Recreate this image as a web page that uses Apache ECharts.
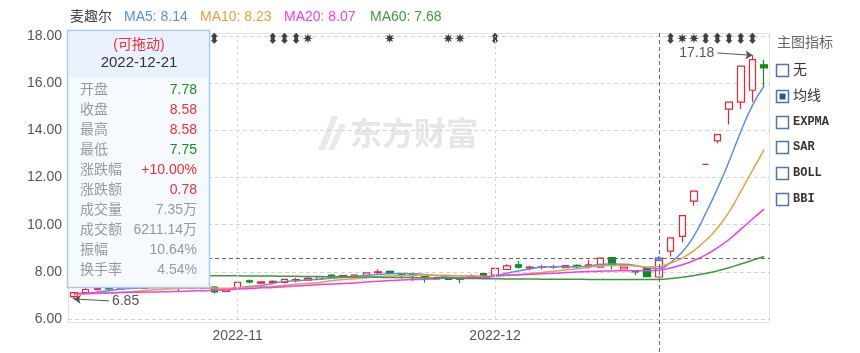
<!DOCTYPE html>
<html><head><meta charset="utf-8">
<script src="https://cdn.jsdelivr.net/npm/echarts@6/dist/echarts.min.js"></script>
<style>html,body{margin:0;padding:0;background:#fff}#c{width:860px;height:353px}</style>
</head><body><div id="c"></div>
<script>
// ---------- data ----------
const dates = ['2022-10-12','2022-10-13','2022-10-14','2022-10-17','2022-10-18','2022-10-19','2022-10-20','2022-10-21','2022-10-24','2022-10-25','2022-10-26','2022-10-27','2022-10-28','2022-10-31',
'2022-11-01','2022-11-02','2022-11-03','2022-11-04','2022-11-07','2022-11-08','2022-11-09','2022-11-10','2022-11-11','2022-11-14','2022-11-15','2022-11-16','2022-11-17','2022-11-18','2022-11-21','2022-11-22','2022-11-23','2022-11-24','2022-11-25','2022-11-28','2022-11-29','2022-11-30',
'2022-12-01','2022-12-02','2022-12-05','2022-12-06','2022-12-07','2022-12-08','2022-12-09','2022-12-12','2022-12-13','2022-12-14','2022-12-15','2022-12-16','2022-12-19','2022-12-20','2022-12-21',
'2022-12-22','2022-12-23','2022-12-26','2022-12-27','2022-12-28','2022-12-29','2022-12-30','2023-01-03','2023-01-04'];
const openP = [6.95,7.12,7.25,7.30,7.28,7.35,7.30,7.38,7.34,7.32, 7.30,7.30,7.35,7.17,7.30,7.62,7.52,7.55,7.55,7.66, 7.65,7.68,7.86,7.78,7.80,7.84,7.97,8.02,7.90,7.88, 7.80,7.70,7.72,7.70,7.72,7.92,7.86,8.10,8.30,8.16, 8.19,8.20,8.18,8.28,8.24,8.20,8.60,8.12,8.04,8.14, 7.78,8.88,9.50,11.00,12.56,13.55,14.90,15.20,15.70,16.78];
const closeP = [7.12,7.25,7.30,7.28,7.35,7.30,7.38,7.34,7.32,7.30, 7.31,7.36,7.15,7.25,7.55,7.57,7.57,7.60,7.68,7.67, 7.72,7.80,7.79,7.84,7.86,7.96,8.00,7.94,7.88,7.84, 7.78,7.74,7.68,7.69,7.82,7.80,8.15,8.25,8.20,8.20, 8.21,8.22,8.26,8.22,8.30,8.58,8.28,8.20,8.00,7.80, 8.58,9.44,10.38,11.42,12.56,13.82,15.20,16.72,17.00,16.65];
const lowP = [6.85,7.08,7.20,7.22,7.25,7.26,7.28,7.30,7.28,7.15, 7.27,7.26,7.08,7.15,7.28,7.52,7.48,7.50,7.52,7.55, 7.60,7.66,7.76,7.75,7.78,7.82,7.90,7.90,7.72,7.62, 7.55,7.66,7.66,7.52,7.70,7.76,7.84,8.08,8.13,8.06, 8.10,8.12,8.15,8.15,8.14,8.18,8.10,8.10,7.86,7.78, 7.75,8.65,9.25,10.80,12.56,13.45,14.25,14.90,15.20,15.87];
const highP = [7.15,7.30,7.38,7.36,7.40,7.42,7.45,7.44,7.40,7.36, 7.33,7.40,7.40,7.27,7.57,7.68,7.60,7.64,7.70,7.75, 7.78,7.82,7.90,7.88,7.90,7.98,8.10,8.06,7.94,7.90, 7.82,7.80,7.74,7.74,7.90,7.94,8.16,8.32,8.46,8.26, 8.30,8.30,8.28,8.32,8.50,8.60,8.62,8.22,8.08,8.15, 8.58,9.44,10.38,11.42,12.56,13.82,15.20,16.72,17.18,16.98];
const ma5 = [7.03,7.08,7.15,7.20,7.26,7.30,7.32,7.33,7.34,7.33, 7.33,7.32,7.29,7.27,7.32,7.38,7.42,7.51,7.59,7.62, 7.65,7.69,7.73,7.76,7.80,7.85,7.89,7.92,7.93,7.92, 7.89,7.84,7.78,7.75,7.74,7.75,7.83,7.94,8.04,8.12, 8.20,8.22,8.22,8.22,8.24,8.32,8.33,8.32,8.27,8.17, 8.14,8.40,8.84,9.52,10.48,11.52,12.68,13.94,15.06,15.88];
const ma10 = [7.04,7.06,7.08,7.10,7.13,7.16,7.20,7.24,7.27,7.29, 7.31,7.32,7.31,7.30,7.32,7.35,7.37,7.39,7.43,7.47, 7.51,7.55,7.62,7.68,7.71,7.75,7.79,7.82,7.84,7.86, 7.87,7.86,7.85,7.83,7.83,7.81,7.83,7.86,7.89,7.93, 7.97,8.02,8.08,8.13,8.18,8.26,8.27,8.27,8.25,8.21, 8.23,8.37,8.58,8.90,9.33,9.85,10.54,11.40,12.30,13.18];
const ma20 = [7.08,7.09,7.10,7.11,7.12,7.13,7.14,7.15,7.16,7.17, 7.19,7.20,7.22,7.24,7.27,7.29,7.32,7.34,7.37,7.40, 7.43,7.46,7.48,7.51,7.53,7.57,7.60,7.63,7.65,7.67, 7.69,7.71,7.74,7.76,7.77,7.78,7.81,7.85,7.87,7.90, 7.92,7.94,7.97,7.99,8.01,8.03,8.04,8.05,8.05,8.05, 8.07,8.16,8.30,8.48,8.72,9.02,9.37,9.80,10.24,10.66];
const ma60 = [7.86,7.86,7.86,7.86,7.85,7.85,7.85,7.85,7.84,7.84, 7.84,7.84,7.83,7.83,7.83,7.82,7.82,7.82,7.81,7.81, 7.80,7.80,7.79,7.79,7.78,7.78,7.77,7.76,7.76,7.75, 7.74,7.74,7.73,7.72,7.72,7.71,7.71,7.70,7.70,7.70, 7.69,7.69,7.69,7.69,7.68,7.68,7.68,7.68,7.68,7.68, 7.68,7.72,7.77,7.84,7.93,8.04,8.17,8.33,8.49,8.65];

const monthLabelDates = ['2022-11-01','2022-12-01'];
const yMin = 6, yMax = 18, yStep = 2;

const upDownMarkDates = ['2022-10-28','2022-11-04','2022-11-07','2022-11-08','2022-12-01','2022-12-22','2022-12-27','2022-12-28','2022-12-29','2022-12-30','2023-01-03'];
const starMarkDates = ['2022-11-09','2022-11-18','2022-11-25','2022-11-28','2022-12-23','2022-12-26'];
const markerLevel = 17.9;

const maxPoint = { date: '2023-01-03', value: 17.18, labelDate: '2022-12-28', labelValue: 17.28, text: '17.18' };
const minPoint = { date: '2022-10-12', value: 6.85, labelDate: '2022-10-17', labelValue: 6.77, text: '6.85' };

const crossDate = '2022-12-21';
const crossValue = 8.58;

const stockName = '麦趣尔';
const legendNames = ['MA5: 8.14', 'MA10: 8.23', 'MA20: 8.07', 'MA60: 7.68'];

const tipTitle = '(可拖动)';
const tipDate = '2022-12-21';
const tipLabels = ['开盘','收盘','最高','最低','涨跌幅','涨跌额','成交量','成交额','振幅','换手率'];
const tipValues = ['7.78','8.58','8.58','7.75','+10.00%','0.78','7.35万','6211.14万','10.64%','4.54%'];
const tipKinds = ['down','up','up','down','up','up','flat','flat','flat','flat'];

const panelTitle = '主图指标';
const indicatorNames = ['无','均线','EXPMA','SAR','BOLL','BBI'];
const indicatorChecked = [false,true,false,false,false,false];

const watermarkText = '东方财富';

// ---------- style ----------
const FONT = "'Liberation Sans', Arial, 'Noto Sans CJK SC', sans-serif";
const RED = '#f5222d', GREEN = '#0f8a1f';
const C_MA5 = '#5b8def', C_MA10 = '#e6a23c', C_MA20 = '#f23cf0', C_MA60 = '#3c9a3c';
const maColors = [C_MA5, C_MA10, C_MA20, C_MA60];

const chart = echarts.init(document.getElementById('c'));

const arrowLine = (p) => [
  { coord: [p.date, p.value], symbol: 'arrow', symbolSize: 7,
    lineStyle: { color: '#555', width: 1, type: 'solid' } },
  { coord: [p.labelDate, p.labelValue], symbol: 'none',
    label: { show: true, position: 'end', formatter: p.text, color: '#555', fontSize: 14, distance: 3, fontFamily: FONT } }
];

chart.setOption({
  animation: false,
  textStyle: { fontFamily: FONT },
  grid: { left: 68, right: 90, top: 36, bottom: 34 },
  xAxis: {
    type: 'category', data: dates, boundaryGap: true,
    axisLine: { show: false }, axisTick: { show: false },
    axisLabel: { interval: (i, v) => monthLabelDates.includes(v), formatter: v => v.slice(0, 7),
      color: '#555', fontSize: 14, margin: 10 },
    splitLine: { show: false }
  },
  yAxis: {
    type: 'value', min: yMin, max: yMax, interval: yStep,
    axisLine: { show: false }, axisTick: { show: false },
    axisLabel: { formatter: v => v.toFixed(2), color: '#555', fontSize: 14, margin: 6 },
    splitLine: { lineStyle: { color: '#d3d3d3', type: [4, 3], width: 1 } }
  },
  series: [
    {
      type: 'candlestick', name: 'K',
      data: dates.map((d, i) => [openP[i], closeP[i], lowP[i], highP[i]]),
      barWidth: 7,
      itemStyle: { color: '#ffffff', color0: GREEN, borderColor: RED, borderColor0: GREEN, borderWidth: 1.2 },
      markLine: {
        silent: true, animation: false, symbol: 'none',
        label: { show: false },
        data: [
          ...monthLabelDates.map(d => ({ xAxis: d, lineStyle: { color: '#d8d8d8', type: [3, 3], width: 1 } })),
          { yAxis: crossValue, lineStyle: { color: '#666', type: [4, 3], width: 1 } },
          arrowLine(maxPoint),
          arrowLine(minPoint)
        ]
      }
    },
    { type: 'line', name: 'MA5', data: ma5, smooth: true, showSymbol: false, lineStyle: { color: C_MA5, width: 1.5 }, itemStyle: { color: C_MA5 } },
    { type: 'line', name: 'MA10', data: ma10, smooth: true, showSymbol: false, lineStyle: { color: C_MA10, width: 1.5 }, itemStyle: { color: C_MA10 } },
    { type: 'line', name: 'MA20', data: ma20, smooth: true, showSymbol: false, lineStyle: { color: C_MA20, width: 1.5 }, itemStyle: { color: C_MA20 } },
    { type: 'line', name: 'MA60', data: ma60, smooth: true, showSymbol: false, lineStyle: { color: C_MA60, width: 1.5 }, itemStyle: { color: C_MA60 } },
    { type: 'scatter', name: 'updown', data: upDownMarkDates.map(d => [d, markerLevel]),
      symbol: 'path://M5 0L10 6L7.8 6L7.8 12L10 12L5 18L0 12L2.2 12L2.2 6L0 6Z', symbolSize: [7, 11], symbolKeepAspect: false,
      itemStyle: { color: '#111' }, silent: true },
    { type: 'scatter', name: 'star', data: starMarkDates.map(d => [d, markerLevel]),
      symbol: 'path://M20 10L14.16 11.72L17.07 17.07L11.72 14.16L10 20L8.28 14.16L2.93 17.07L5.84 11.72L0 10L5.84 8.28L2.93 2.93L8.28 5.84L10 0L11.72 5.84L17.07 2.93L14.16 8.28Z',
      symbolSize: 10, itemStyle: { color: '#111' }, silent: true }
  ]
});

// ---------- overlay elements ----------
const cx = chart.convertToPixel({ xAxisIndex: 0 }, crossDate);
const cy = chart.convertToPixel({ yAxisIndex: 0 }, crossValue);
const f = (size, fam) => size + 'px ' + (fam || FONT);
const txt = (text, x, y, fill, font, align, z) => ({
  type: 'text', x, y, z: z || 100, silent: true,
  style: { text, fill, font, align: align || 'left', verticalAlign: 'middle', textAlign: align || 'left', textVerticalAlign: 'middle' }
});

const g = [];
// plot border
g.push({ type: 'rect', z: -1, silent: true, shape: { x: 68.5, y: 33.5, width: 701, height: 289 }, style: { fill: 'none', stroke: '#e2e2e2', lineWidth: 1 } });
// watermark
g.push({ type: 'polygon', z: -1, silent: true, shape: { points: [[318,150],[332,116],[338,116],[325,150]] }, style: { fill: '#e9e9e9' } });
g.push({ type: 'polygon', z: -1, silent: true, shape: { points: [[328,150],[340,124],[346,124],[334,150]] }, style: { fill: '#e9e9e9' } });
g.push({ type: 'text', x: 350, y: 133, z: -1, silent: true, style: { text: watermarkText, fill: '#e6e6e6', font: "bold 32px 'Noto Sans CJK SC'", align: 'left', verticalAlign: 'middle', textAlign: 'left', textVerticalAlign: 'middle' } });
// legend line
g.push(txt(stockName, 70, 17, '#444', f(14)));
const legendX = [124, 200, 284, 370];
legendNames.forEach((n, i) => g.push(txt(n, legendX[i], 17, maColors[i], f(14))));
// crosshair vertical
g.push({ type: 'line', z: 50, silent: true, shape: { x1: Math.round(cx) + 0.5, y1: 33, x2: Math.round(cx) + 0.5, y2: 353 }, style: { stroke: '#666', lineDash: [4, 3], lineWidth: 1 } });
g.push({ type: 'polygon', z: 60, silent: true, shape: { points: [[cx - 3.5, cy + 3], [cx + 3.5, cy + 3], [cx, cy - 3]] }, style: { fill: '#3d8af7' } });
// tooltip box
g.push({ type: 'rect', z: 90, silent: true, shape: { x: 67.5, y: 30.5, width: 142, height: 257 }, style: { fill: '#f6f9fe', stroke: '#a9c9f3', lineWidth: 1.5 } });
g.push({ type: 'rect', z: 91, silent: true, shape: { x: 68.5, y: 31.5, width: 140, height: 46 }, style: { fill: '#e8f1fd' } });
g.push(txt(tipTitle, 139, 45, '#f23030', f(14), 'center'));
g.push(txt(tipDate, 139, 63, '#333', f(15), 'center'));
const kindColor = { up: '#f23030', down: '#1d8c1d', flat: '#999' };
tipLabels.forEach((l, i) => {
  g.push(txt(l, 80, 90 + 20 * i, '#999', f(14)));
  g.push(txt(tipValues[i], 197, 90 + 20 * i, kindColor[tipKinds[i]], f(14), 'right'));
});
// right panel
g.push(txt(panelTitle, 777, 43, '#666', f(14)));
indicatorNames.forEach((n, i) => {
  const yc = 70 + 25.8 * i;
  g.push({ type: 'rect', z: 100, silent: true, shape: { x: 776.5, y: Math.round(yc - 6) + 0.5, width: 12, height: 12 }, style: { fill: '#fff', stroke: '#4f74b5', lineWidth: 1.5 } });
  if (indicatorChecked[i]) g.push({ type: 'rect', z: 101, silent: true, shape: { x: 779.5, y: Math.round(yc - 6) + 3.5, width: 6, height: 6 }, style: { fill: '#2b55a0' } });
  const isLatin = /^[A-Z]+$/.test(n);
  g.push(txt(n, 793, yc, '#333', isLatin ? "bold 12px 'Liberation Mono', monospace" : f(14)));
});
chart.setOption({ graphic: { elements: g } });
</script>
</body></html>
